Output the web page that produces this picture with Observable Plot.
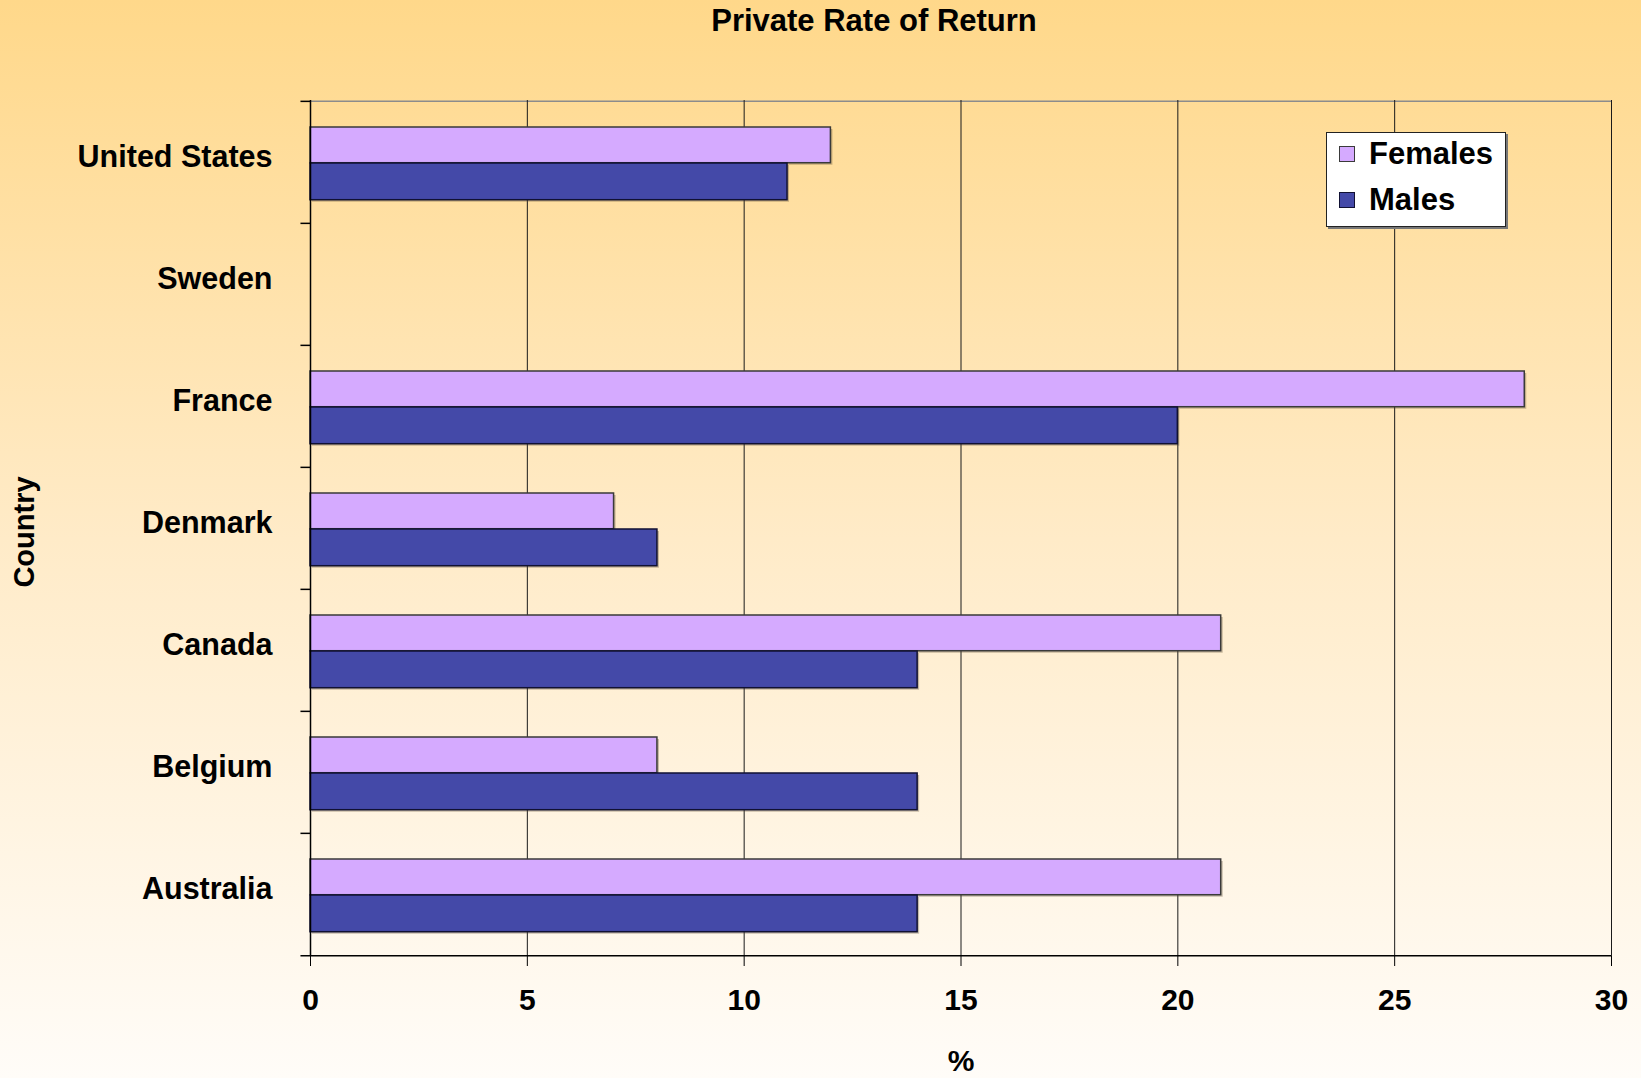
<!DOCTYPE html>
<html>
<head>
<meta charset="utf-8">
<script src="https://cdn.jsdelivr.net/npm/d3@7"></script>
<script src="https://cdn.jsdelivr.net/npm/@observablehq/plot@0.6"></script>
<style>
  html, body { margin: 0; padding: 0; }
  body { font-family: "Liberation Sans", Arial, sans-serif; }
  #page {
    position: relative; width: 1641px; height: 1078px; overflow: hidden;
    background: linear-gradient(to bottom, #FFD88A 0%, #FFEBC8 50%, #FFFCF8 100%);
  }
  #chart { position: absolute; left: 0; top: 0; }
  #chart svg { background: transparent; overflow: visible; }
  .lbl { position: absolute; font-weight: bold; color: #000; white-space: nowrap; }
  #title { font-size: 31px; line-height: 31px; top: 5px; left: 874px; transform: translateX(-50%); }
  #xlabel { font-size: 30px; line-height: 30px; top: 1046px; left: 961px; transform: translateX(-50%); }
  #ylabel { font-size: 29px; line-height: 29px; left: 24px; top: 532px; transform: translate(-50%, -50%) rotate(-90deg); }
  #legend {
    position: absolute; left: 1326px; top: 132px; width: 178px; height: 93px;
    background: #fff; border: 1.5px solid #222; box-shadow: 2px 2px 0 #777;
  }
  .item { position: absolute; left: 12px; height: 31px; display: flex; align-items: center; font-size: 31px; line-height: 31px; font-weight: bold; }
  .sw { width: 14px; height: 14px; margin-right: 14px; }
</style>
</head>
<body>
<div id="page">
  <div id="chart"></div>
  <div id="title" class="lbl">Private Rate of Return</div>
  <div id="xlabel" class="lbl">%</div>
  <div id="ylabel" class="lbl">Country</div>
  <div id="legend"></div>
</div>
<script>
// ---- data ----
const countries = ["United States", "Sweden", "France", "Denmark", "Canada", "Belgium", "Australia"];
const females = [12, null, 28, 7, 21, 8, 21];
const males   = [11, null, 20, 8, 14, 14, 14];
const xTicks  = [0, 5, 10, 15, 20, 25, 30];
const seriesNames = ["Females", "Males"];
const seriesColors = ["#D5AAFF", "#4449A8"];
const seriesStrokes = ["#3a3a3a", "#111133"];

// ---- layout ----
const W = 1641, H = 1078;
const mTop = 100, mBottom = 122, mLeft = 310, mRight = 30;
const bw = (H - mTop - mBottom) / countries.length;
const topGap = 26, fH = 36, mH = 37;

const femRows = countries.map((c, i) => ({country: c, value: females[i]})).filter(d => d.value != null);
const maleRows = countries.map((c, i) => ({country: c, value: males[i]})).filter(d => d.value != null);

const chart = Plot.plot({
  width: W, height: H,
  marginTop: mTop, marginBottom: mBottom, marginLeft: mLeft, marginRight: mRight,
  style: {background: "transparent", fontFamily: "'Liberation Sans', Arial, sans-serif", color: "#000", overflow: "visible"},
  x: {domain: [0, 30]},
  y: {domain: countries, padding: 0},
  marks: [
    // top border
    Plot.ruleY([countries[0]], {x1: 0, x2: 30, dy: -bw / 2, stroke: "#8c8c8c", strokeWidth: 1.5}),
    // vertical gridlines
    Plot.ruleX(xTicks.slice(1), {stroke: "#1a1a1a", strokeWidth: 1}),
    // shadows
    Plot.barX(femRows, {y: "country", x: "value", insetTop: topGap + 2, insetBottom: bw - topGap - fH - 2, dx: 2, fill: "#5a4a30", fillOpacity: 0.35}),
    Plot.barX(maleRows, {y: "country", x: "value", insetTop: topGap + fH + 2, insetBottom: bw - topGap - fH - mH - 2, dx: 2, fill: "#5a4a30", fillOpacity: 0.35}),
    // bars
    Plot.barX(femRows, {y: "country", x: "value", insetTop: topGap, insetBottom: bw - topGap - fH, fill: seriesColors[0], stroke: seriesStrokes[0], strokeWidth: 1.5}),
    Plot.barX(maleRows, {y: "country", x: "value", insetTop: topGap + fH, insetBottom: bw - topGap - fH - mH, fill: seriesColors[1], stroke: seriesStrokes[1], strokeWidth: 1.5}),
    // left axis line
    Plot.ruleX([0], {stroke: "#000", strokeWidth: 1.5}),
    // left category boundary ticks
    Plot.ruleY(countries, {x1: -0.22, x2: 0, dy: -bw / 2, stroke: "#000", strokeWidth: 1.5}),
    // bottom axis line
    Plot.ruleY([countries[countries.length - 1]], {x1: -0.22, x2: 30, dy: bw / 2, stroke: "#000", strokeWidth: 1.5}),
    Plot.axisX({ticks: xTicks, tickSize: 10, tickPadding: 22, fontSize: 30, fontWeight: "bold", label: null, stroke: "#000"}),
    Plot.axisY({tickSize: 0, tickPadding: 38, dy: -5, fontSize: 30.5, fontWeight: "bold", label: null})
  ]
});
document.getElementById("chart").appendChild(chart);

// legend
const lg = document.getElementById("legend");
seriesNames.forEach((name, i) => {
  const item = document.createElement("div");
  item.className = "item";
  item.style.top = (i === 0 ? 5 : 51) + "px";
  const sw = document.createElement("div");
  sw.className = "sw";
  sw.style.background = seriesColors[i];
  sw.style.border = "1.5px solid " + seriesStrokes[i];
  const tx = document.createElement("span");
  tx.textContent = name;
  item.appendChild(sw);
  item.appendChild(tx);
  lg.appendChild(item);
});
</script>
</body>
</html>
